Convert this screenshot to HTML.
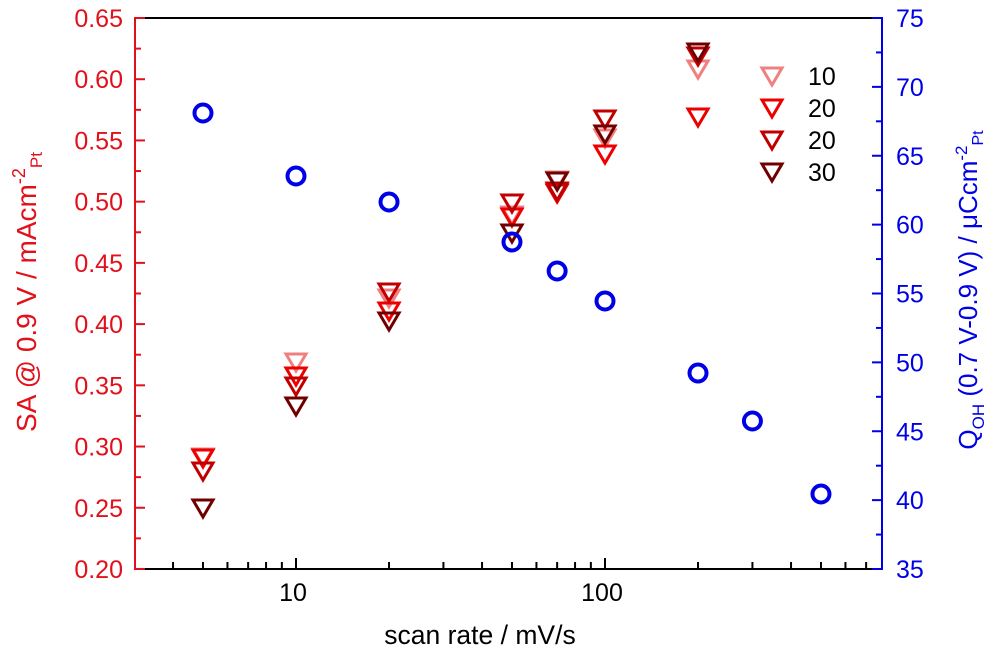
<!DOCTYPE html>
<html><head><meta charset="utf-8"><style>
html,body{margin:0;padding:0;background:#fff;width:990px;height:648px;overflow:hidden}
svg{display:block;font-family:"Liberation Sans",Arial,sans-serif}
</style></head><body>
<svg width="990" height="648" viewBox="0 0 990 648" xmlns="http://www.w3.org/2000/svg">
<g id="g"></g>
</svg>
<script>
const NS="http://www.w3.org/2000/svg",g=document.getElementById('g');
function el(t,a,txt){const e=document.createElementNS(NS,t);for(const k in a)e.setAttribute(k,a[k]);if(txt!=null)e.textContent=txt;g.appendChild(e);return e;}
const L=135,R=882,T=18,B=569;
const X=v=>296+309*Math.log10(v/10);
const RED='#E2101A',BLUE='#0000E6';
el('line',{x1:L,y1:T,x2:R,y2:T,stroke:'#000','stroke-width':2});
el('line',{x1:L,y1:B,x2:R,y2:B,stroke:'#000','stroke-width':2});
el('line',{x1:L,y1:T-1,x2:L,y2:B+1,stroke:RED,'stroke-width':2});
el('line',{x1:R,y1:T-1,x2:R,y2:B+1,stroke:BLUE,'stroke-width':2});
for(let i=0;i<=9;i++){const y=T+i*61.22;el('line',{x1:L,y1:y,x2:L+10,y2:y,stroke:RED,'stroke-width':2});
 el('text',{x:123,y:y+9,'text-anchor':'end','font-size':25,fill:RED},(0.65-i*0.05).toFixed(2));
 if(i<9){const ym=y+30.61;el('line',{x1:L,y1:ym,x2:L+6,y2:ym,stroke:RED,'stroke-width':2});}}
for(let i=0;i<=8;i++){const y=T+i*68.875;el('line',{x1:R,y1:y,x2:R-10,y2:y,stroke:BLUE,'stroke-width':2});
 el('text',{x:896,y:y+9,'font-size':25,fill:BLUE},String(75-i*5));
 if(i<8){const ym=y+34.44;el('line',{x1:R,y1:ym,x2:R-6,y2:ym,stroke:BLUE,'stroke-width':2});}}
[4,5,6,7,8,9,20,30,40,50,60,70,80,90,200,300,400,500,600,700].forEach(v=>{const x=X(v);el('line',{x1:x,y1:B,x2:x,y2:B-7,stroke:'#000','stroke-width':2});});
[10,100].forEach(v=>{const x=X(v);el('line',{x1:x,y1:B,x2:x,y2:B-11,stroke:'#000','stroke-width':2});el('text',{x:x-3,y:601,'text-anchor':'middle','font-size':25,fill:'#000'},String(v));});
el('text',{x:480,y:644,'text-anchor':'middle','font-size':26.5,fill:'#000'},'scan rate / mV/s');
const lt=el('text',{x:0,y:0,'font-size':28,fill:RED,transform:'translate(36,292) rotate(-90)','text-anchor':'middle'});
lt.innerHTML='SA @ 0.9 V / mAcm<tspan dy="-11" font-size="18">-2</tspan><tspan dy="17" font-size="17">Pt</tspan>';
const rt=el('text',{x:0,y:0,'font-size':26,fill:BLUE,transform:'translate(977,290) rotate(-90)','text-anchor':'middle'});
rt.innerHTML='Q<tspan dy="7" font-size="17">OH</tspan><tspan dy="-7"> (0.7 V-0.9 V) / μCcm</tspan><tspan dy="-10" font-size="17">-2</tspan><tspan dy="16" font-size="16">Pt</tspan>';
const C=['#F08080','#EE0000','#C00000','#700000'];
function tri(x,t,c){el('polygon',{points:`${x-10},${t} ${x+10},${t} ${x},${t+17}`,fill:'none',stroke:c,'stroke-width':3,'stroke-linejoin':'miter'});}
const data={5:[449,450,463,500],10:[354,368,378,398],20:[290,303,284,313],50:[207,209,195,225],70:[172,185,183,173],100:[130,146,111,126],200:[61,109,48,44]};
for(let s=0;s<4;s++)for(const k in data)tri(X(+k),data[k][s],C[s]);
[[5,113],[10,176],[20,202],[50,242],[70,271],[100,301],[200,373],[300,421],[500,494]].forEach(([v,y])=>el('circle',{cx:X(v),cy:y,r:8.5,fill:'none',stroke:BLUE,'stroke-width':4}));
const ly=[68,100,132,164],lab=['10','20','20','30'];
for(let i=0;i<4;i++){tri(772,ly[i],C[i]);el('text',{x:808,y:ly[i]+17,'font-size':25,fill:'#000'},lab[i]);}
</script>
</body></html>
